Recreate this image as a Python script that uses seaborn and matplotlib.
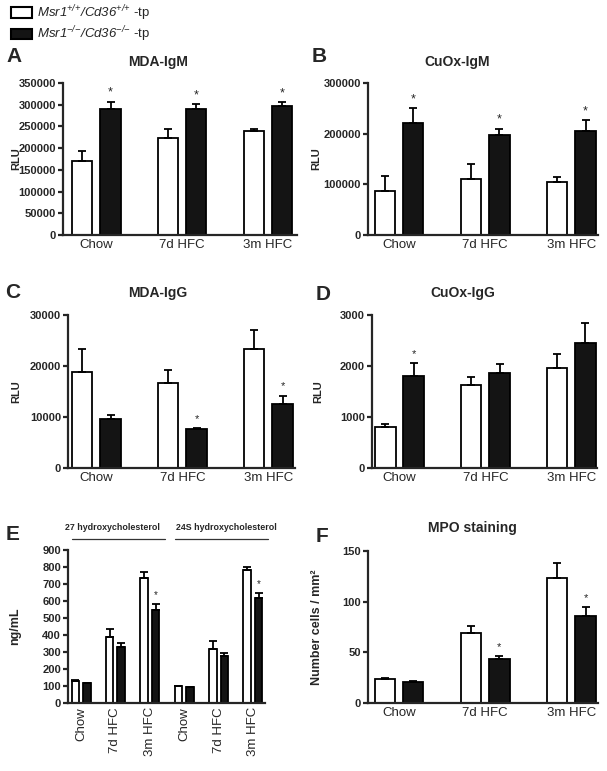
import numpy as np
import pandas as pd
import matplotlib
matplotlib.use('Agg')
import matplotlib.pyplot as plt
import seaborn as sns
from matplotlib.patches import Patch

# ---- data ----
diets = ['Chow', '7d HFC', '3m HFC']

# A  MDA-IgM
mda_igm_wt = [170000, 223000, 240000]
mda_igm_wt_err = [23000, 21000, 4000]
mda_igm_ko = [290000, 290000, 298000]
mda_igm_ko_err = [17000, 11000, 7500]
mda_igm_sig = [True, True, True]

# B  CuOx-IgM
cuox_igm_wt = [86000, 110000, 104000]
cuox_igm_wt_err = [31000, 30000, 10000]
cuox_igm_ko = [222000, 197000, 206000]
cuox_igm_ko_err = [28000, 13000, 20000]
cuox_igm_sig = [True, True, True]

# C  MDA-IgG
mda_igg_wt = [18900, 16700, 23300]
mda_igg_wt_err = [4400, 2500, 3700]
mda_igg_ko = [9600, 7700, 12600]
mda_igg_ko_err = [700, 200, 1600]
mda_igg_sig = [False, True, True]

# D  CuOx-IgG
cuox_igg_wt = [805, 1625, 1965]
cuox_igg_wt_err = [50, 165, 280]
cuox_igg_ko = [1800, 1855, 2445]
cuox_igg_ko_err = [250, 185, 390]
cuox_igg_sig = [True, False, False]

# E  oxysterols (27- then 24S-hydroxycholesterol)
sterols = ['27 hydroxycholesterol', '24S hydroxycholesterol']
oxy_diets = diets + diets
oxy_wt = [129, 387, 734, 98, 319, 783]
oxy_wt_err = [4, 47, 35, 3, 47, 19]
oxy_ko = [117, 327, 548, 94, 274, 616]
oxy_ko_err = [3, 25, 35, 3, 23, 30]
oxy_sig = [False, False, True, False, False, True]

# F  MPO staining
mpo_wt = [23.6, 69.4, 123.5]
mpo_wt_err = [1.0, 6.6, 15.0]
mpo_ko = [20.3, 43.2, 86.1]
mpo_ko_err = [1.6, 3.3, 8.2]
mpo_sig = [False, True, True]

legend_labels = [r'$Msr1^{{+}/{+}}/Cd36^{{+}/{+}}$ -tp',
                 r'$Msr1^{{-}/{-}}/Cd36^{{-}/{-}}$ -tp']

# ---- style ----
sns.set_style('ticks')
plt.rcParams['font.family'] = ['Liberation Sans', 'DejaVu Sans']
plt.rcParams['mathtext.fontset'] = 'custom'
plt.rcParams['mathtext.rm'] = 'Liberation Sans:italic'
plt.rcParams['mathtext.it'] = 'Liberation Sans:italic'

W, H = 607, 771
fig = plt.figure(figsize=(W / 100, H / 100), dpi=100)
palette = {'WT': 'white', 'KO': '#141414'}


def px_axes(left, right, top, bottom):
    return fig.add_axes([left / W, 1 - bottom / H, (right - left) / W, (bottom - top) / H])


def draw_panel(ax, labels, wt, wt_err, ko, ko_err, sig, yticks, xlim,
               width=0.66, gap=0.28, star_size=9, rotate=False):
    n = len(labels)
    df = pd.DataFrame({'pos': list(range(n)) * 2,
                       'geno': ['WT'] * n + ['KO'] * n,
                       'val': wt + ko})
    sns.barplot(data=df, x='pos', y='val', hue='geno', hue_order=['WT', 'KO'],
                palette=palette, edgecolor='black', linewidth=1.3,
                width=width, gap=gap, errorbar=None, legend=False, ax=ax)
    for cont, errs in zip(ax.containers, [wt_err, ko_err]):
        xs = [b.get_x() + b.get_width() / 2 for b in cont]
        ys = [b.get_height() for b in cont]
        ax.errorbar(xs, ys, yerr=[np.zeros(n), errs], fmt='none', ecolor='black',
                    elinewidth=1.3, capsize=3, capthick=1.3, zorder=5)
    for b, e, s in zip(ax.containers[1], ko_err, sig):
        if s:
            ax.annotate('*', xy=(b.get_x() + b.get_width() / 2, b.get_height() + e),
                        xytext=(0, 6.5), textcoords='offset points',
                        ha='center', va='center', fontsize=star_size)
    ax.set_xlim(*xlim)
    ax.set_ylim(0, yticks[-1])
    ax.set_yticks(yticks, labels=[str(t) for t in yticks], fontweight='bold', fontsize=8)
    ax.set_xticks(range(n), labels=labels, fontsize=9.5, rotation=90 if rotate else 0)
    ax.set_xlabel('')
    sns.despine(ax=ax)
    for side in ['left', 'bottom']:
        ax.spines[side].set_linewidth(1.6)
    ax.tick_params(axis='y', length=3.5, width=1.6, pad=1.5)
    ax.tick_params(axis='x', length=0, pad=3)


def ylabel(ax, text, xpx, left, right, size=8):
    ax.set_ylabel(text, fontweight='bold', fontsize=size)
    ax.yaxis.label.set_verticalalignment('center')
    ax.yaxis.set_label_coords((xpx - left) / (right - left), 0.5)


def fig_text(xpx, ypx, s, **kw):
    fig.text(xpx / W, 1 - ypx / H, s, **kw)


# A
axA = px_axes(63, 297, 83, 235)
draw_panel(axA, diets, mda_igm_wt, mda_igm_wt_err, mda_igm_ko, mda_igm_ko_err, mda_igm_sig,
           list(range(0, 350001, 50000)), (-0.39, 2.34))
ylabel(axA, 'RLU', 16, 63, 297)

# B
axB = px_axes(368, 598, 83, 235)
draw_panel(axB, diets, cuox_igm_wt, cuox_igm_wt_err, cuox_igm_ko, cuox_igm_ko_err, cuox_igm_sig,
           [0, 100000, 200000, 300000], (-0.36, 2.31))
ylabel(axB, 'RLU', 316, 368, 598)

# C
axC = px_axes(68, 295, 315, 468)
draw_panel(axC, diets, mda_igg_wt, mda_igg_wt_err, mda_igg_ko, mda_igg_ko_err, mda_igg_sig,
           [0, 10000, 20000, 30000], (-0.33, 2.31), star_size=8)
ylabel(axC, 'RLU', 16, 68, 295)

# D
axD = px_axes(372, 597, 315, 468)
draw_panel(axD, diets, cuox_igg_wt, cuox_igg_wt_err, cuox_igg_ko, cuox_igg_ko_err, cuox_igg_sig,
           [0, 1000, 2000, 3000], (-0.32, 2.30), star_size=8)
ylabel(axD, 'RLU', 318, 372, 597)

# E
axE = px_axes(68, 265, 550, 703)
draw_panel(axE, oxy_diets, oxy_wt, oxy_wt_err, oxy_ko, oxy_ko_err, oxy_sig,
           list(range(0, 901, 100)), (-0.38, 5.35), width=0.67, gap=0.35,
           star_size=7, rotate=True)
ylabel(axE, 'ng/mL', 15, 68, 265, size=9)
for k, (name, shift) in enumerate(zip(sterols, [-0.19, 0.13])):
    x0, x1 = 3 * k - 0.27, 3 * k + 2 + 0.45
    axE.plot([x0, x1], [1.072, 1.072], color='#333333', lw=0.9,
             transform=axE.get_xaxis_transform(), clip_on=False)
    axE.text((x0 + x1) / 2 + shift, 1.144, name, ha='center', va='center', fontsize=6.4,
             fontweight='bold', transform=axE.get_xaxis_transform())

# F
axF = px_axes(368, 598, 551, 703)
draw_panel(axF, diets, mpo_wt, mpo_wt_err, mpo_ko, mpo_ko_err, mpo_sig,
           [0, 50, 100, 150], (-0.36, 2.31), star_size=8)
ylabel(axF, 'Number cells / mm²', 317, 368, 598, size=9)

# titles
title_kw = dict(ha='center', va='center', fontsize=10, fontweight='bold')
fig_text(158, 62, 'MDA-IgM', **title_kw)
fig_text(457, 62, 'CuOx-IgM', **title_kw)
fig_text(158, 293, 'MDA-IgG', **title_kw)
fig_text(463, 293, 'CuOx-IgG', **title_kw)
fig_text(472, 528, 'MPO staining', **title_kw)

# panel letters
letter_kw = dict(ha='left', va='center', fontsize=15, fontweight='bold')
for letter, x, y in [('A', 6, 56), ('B', 312, 56), ('C', 5, 293), ('D', 316, 295),
                     ('E', 6, 535), ('F', 316, 536)]:
    fig_text(x, y, letter, **letter_kw)

# legend
handles = [Patch(facecolor=palette['WT'], edgecolor='black', linewidth=1.5, label=legend_labels[0]),
           Patch(facecolor=palette['KO'], edgecolor='black', linewidth=1.5, label=legend_labels[1])]
fig.legend(handles=handles, loc='upper left', bbox_to_anchor=(11 / W, 1 - 3 / H),
           frameon=False, fontsize=9.5, handlelength=1.6, handleheight=0.85,
           handletextpad=0.4, labelspacing=0.15, borderpad=0, borderaxespad=0)

fig.savefig('out.png', dpi=100)
